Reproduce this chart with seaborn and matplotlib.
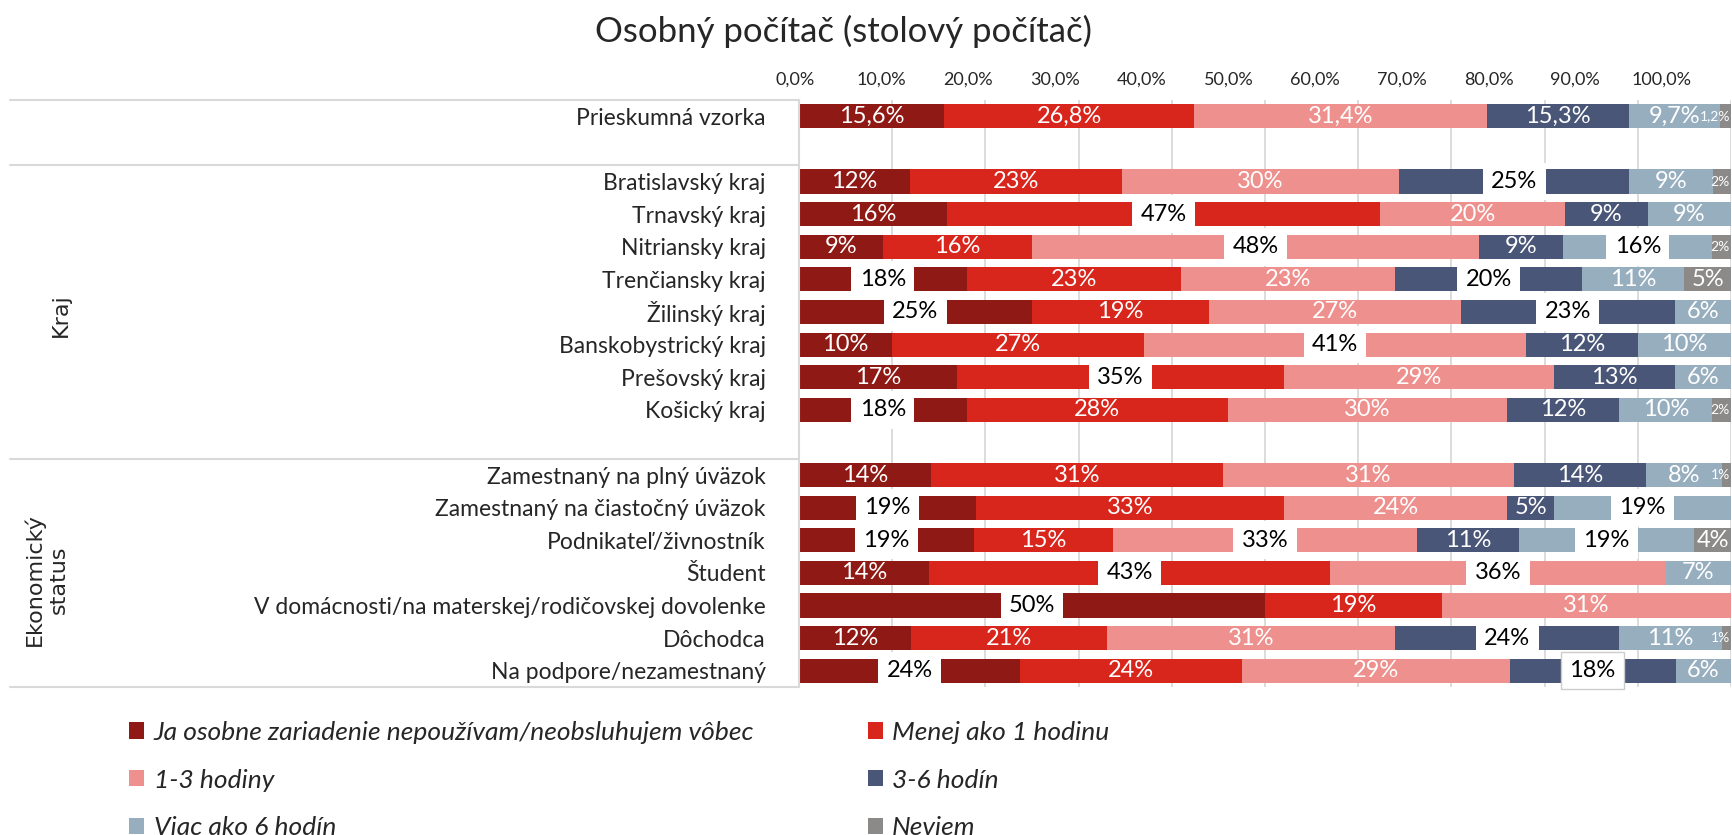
import matplotlib
matplotlib.use("Agg")
import matplotlib.pyplot as plt
import seaborn as sns
import pandas as pd
import numpy as np
from matplotlib.patches import Patch
from matplotlib.lines import Line2D
from matplotlib.transforms import blended_transform_factory

# ---------------- data ----------------
title = "Osobný počítač (stolový počítač)"

categories = [
    "Prieskumná vzorka",
    "Bratislavský kraj", "Trnavský kraj", "Nitriansky kraj", "Trenčiansky kraj",
    "Žilinský kraj", "Banskobystrický kraj", "Prešovský kraj", "Košický kraj",
    "Zamestnaný na plný úväzok", "Zamestnaný na čiastočný úväzok",
    "Podnikateľ/živnostník", "Študent",
    "V domácnosti/na materskej/rodičovskej dovolenke", "Dôchodca",
    "Na podpore/nezamestnaný",
]
group_kraj = "Kraj"
group_status = "Ekonomický\nstatus"

series_names = [
    "Ja osobne zariadenie nepoužívam/neobsluhujem vôbec",
    "Menej ako 1 hodinu",
    "1-3 hodiny",
    "3-6 hodín",
    "Viac ako 6 hodín",
    "Neviem",
]
nepouzivam = [15.6, 12, 16, 9, 18, 25, 10, 17, 18, 14, 19, 19, 14, 50, 12, 24]
menej_1h   = [26.8, 23, 47, 16, 23, 19, 27, 35, 28, 31, 33, 15, 43, 19, 21, 24]
hod_1_3    = [31.4, 30, 20, 48, 23, 27, 41, 29, 30, 31, 24, 33, 36, 31, 31, 29]
hod_3_6    = [15.3, 25, 9, 9, 20, 23, 12, 13, 12, 14, 5, 11, 0, 0, 24, 18]
viac_6h    = [9.7, 9, 9, 16, 11, 6, 10, 6, 10, 8, 19, 19, 7, 0, 11, 6]
neviem     = [1.2, 2, 0, 2, 5, 0, 0, 0, 2, 1, 0, 4, 0, 0, 1, 0]

tick_values = [0, 10, 20, 30, 40, 50, 60, 70, 80, 90, 100]
tick_labels = ["0,0%", "10,0%", "20,0%", "30,0%", "40,0%", "50,0%",
               "60,0%", "70,0%", "80,0%", "90,0%", "100,0%"]

# labels shown in white boxes with black text (category, series index)
boxed_labels = [
    ("Bratislavský kraj", 3), ("Trnavský kraj", 1),
    ("Nitriansky kraj", 2), ("Nitriansky kraj", 4),
    ("Trenčiansky kraj", 0), ("Trenčiansky kraj", 3),
    ("Žilinský kraj", 0), ("Žilinský kraj", 3),
    ("Banskobystrický kraj", 2), ("Prešovský kraj", 1), ("Košický kraj", 0),
    ("Zamestnaný na čiastočný úväzok", 0), ("Zamestnaný na čiastočný úväzok", 4),
    ("Podnikateľ/živnostník", 0), ("Podnikateľ/živnostník", 2), ("Podnikateľ/živnostník", 4),
    ("Študent", 1), ("Študent", 2),
    ("V domácnosti/na materskej/rodičovskej dovolenke", 0),
    ("Dôchodca", 3),
    ("Na podpore/nezamestnaný", 0), ("Na podpore/nezamestnaný", 3),
]
bordered_labels = [("Na podpore/nezamestnaný", 3)]

colors = ["#8f1914", "#d9261d", "#ee918e", "#4a5677", "#97aebf", "#8c8a88"]

# ---------------- style ----------------
sns.set_style("white")
plt.rcParams["font.family"] = ["Lato", "DejaVu Sans"]

W, H = 1733, 835
fig = plt.figure(figsize=(W / 100, H / 100), dpi=100)

order = [categories[0], ""] + categories[1:9] + [" "] + categories[9:]

values = np.array([nepouzivam, menej_1h, hod_1_3, hod_3_6, viac_6h, neviem], dtype=float)
shares = values / values.sum(axis=0) * 100  # 100 % stacked
cum = np.cumsum(shares, axis=0)

df = pd.DataFrame({"category": categories})
for k in range(len(series_names)):
    df[f"cum{k}"] = cum[k]

ax = fig.add_axes([799 / W, 1 - 687 / H, 932 / W, 587 / H])
for k in reversed(range(len(series_names))):
    sns.barplot(data=df, x=f"cum{k}", y="category", order=order, color=colors[k],
                width=0.74, saturation=1, linewidth=0, errorbar=None, orient="h", ax=ax)

ax.set_xlim(0, 100)
ax.set_ylim(len(order) - 0.5, -0.5)
ax.set_xticks(tick_values)
ax.xaxis.grid(True, color="#d9d9d9", lw=1.3)
ax.yaxis.grid(False)
ax.set_axisbelow(True)
ax.tick_params(axis="x", labelbottom=False, length=0)
ax.tick_params(axis="y", length=0, pad=24, labelsize=16.5)
ax.set_xlabel("")
ax.set_ylabel("")
for s in ["top", "right", "bottom"]:
    ax.spines[s].set_visible(False)
ax.spines["left"].set_color("#d9d9d9")
ax.spines["left"].set_linewidth(1.5)

# top tick label axis (offset like the original)
def v_at(px):
    return (px - 795) / 8.67

ax2 = fig.add_axes([780 / W, 1 - 687 / H, 953 / W, 587 / H], frameon=False)
ax2.patch.set_alpha(0)
ax2.set_xlim(v_at(780), v_at(1733))
ax2.set_xticks(tick_values, tick_labels)
ax2.set_yticks([])
ax2.tick_params(axis="x", length=0, pad=9, labelsize=13, labeltop=True, labelbottom=False)

# separator lines in category region
trans = blended_transform_factory(fig.transFigure, ax.transData)
for yb in [-0.5, 1.5, 10.5, len(order) - 0.5]:
    fig.add_artist(Line2D([10 / W, 799 / W], [yb, yb], transform=trans,
                          color="#d9d9d9", lw=1.5))

ax.text(61 / W, 6.1, group_kraj, transform=trans, rotation=90, ha="center", va="center",
        family="DejaVu Sans", fontsize=16)
ax.text(46 / W, 14.2, group_status, transform=trans, rotation=90, ha="center", va="center",
        multialignment="center", family="DejaVu Sans", fontsize=16)

# data labels
fig.canvas.draw()
renderer = fig.canvas.get_renderer()
ax_right_px = ax.transAxes.transform((1, 0))[0]
for j, cat in enumerate(categories):
    ypos = order.index(cat)
    for k in range(len(series_names)):
        v = values[k, j]
        if v <= 0:
            continue
        xc = cum[k, j] - shares[k, j] / 2
        if j == 0:
            txt = f"{v:.1f}".replace(".", ",") + "%"
        else:
            txt = f"{v:.0f}%"
        fs = 10 if v < 3 else 17
        if (cat, k) in boxed_labels:
            ec = "#cccccc" if (cat, k) in bordered_labels else "none"
            t = ax.text(xc, ypos, txt, ha="center", va="center", color="black", fontsize=fs,
                        zorder=6, bbox=dict(boxstyle="square,pad=0.35", fc="white", ec=ec, lw=1))
        else:
            t = ax.text(xc, ypos, txt, ha="center", va="center", color="white", fontsize=fs,
                        zorder=5)
        # keep label inside the plot area (as the original does)
        bb = t.get_window_extent(renderer)
        overflow = bb.x1 - (ax_right_px - 1)
        if overflow > 0:
            x_px = ax.transData.transform((xc, ypos))[0] - overflow
            t.set_x(ax.transData.inverted().transform((x_px, 0))[0])

fig.text(844 / W, 1 - 31 / H, title, ha="center", va="center", fontsize=25)

handles = [Patch(facecolor=c, edgecolor="none") for c in colors]
idx = [0, 2, 4, 1, 3, 5]
fig.legend([handles[i] for i in idx], [series_names[i] for i in idx],
           ncol=2, loc="upper left", bbox_to_anchor=(129 / W, 1 - 721 / H),
           frameon=False, borderpad=0, borderaxespad=0,
           prop={"style": "italic", "size": 19},
           handlelength=0.58, handleheight=0.58, handletextpad=0.35,
           labelspacing=0.93, columnspacing=4.3)

fig.savefig("out.png", dpi=100)
